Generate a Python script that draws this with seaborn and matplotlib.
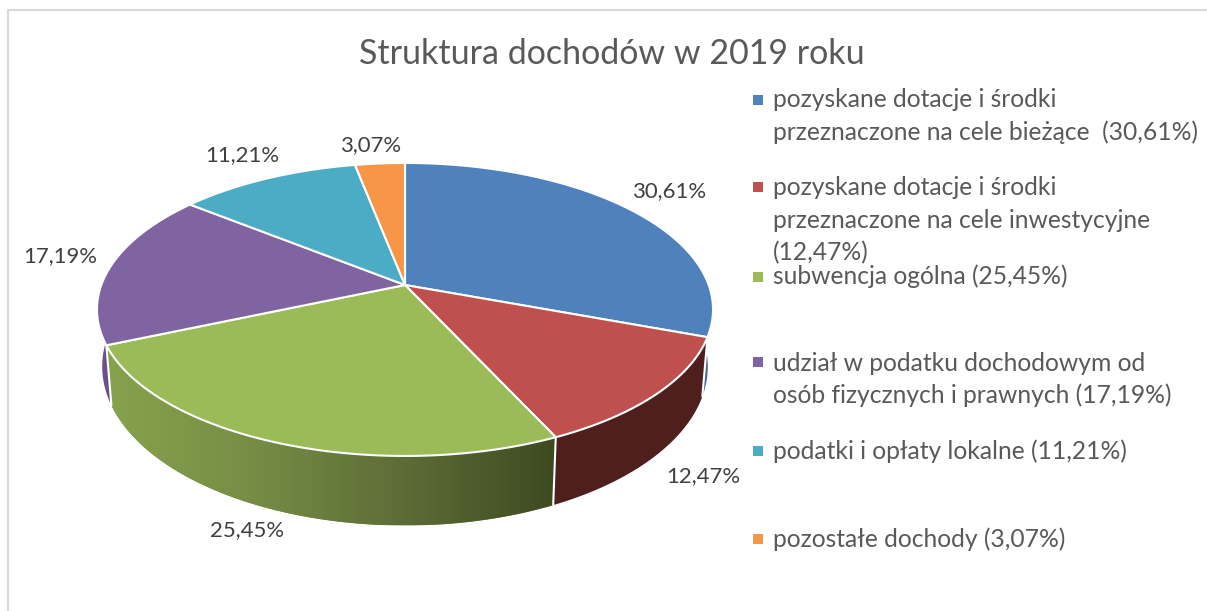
import numpy as np
import matplotlib
matplotlib.use("Agg")
import matplotlib.pyplot as plt
from matplotlib.colors import LinearSegmentedColormap
import seaborn as sns

title = "Struktura dochodów w 2019 roku"
values = [30.61, 12.47, 25.45, 17.19, 11.21, 3.07]
top_colors = ["#4F81BD", "#C0504D", "#9BBB59", "#8064A2", "#4BACC6", "#F79646"]
rim_colors = ["#3F6797", "#4F1F1E", "#7A9446", "#6A5288", "#37879D", "#C4742E"]
green_gradient = ["#87A34C", "#768C45", "#5C6C37", "#3D4A20"]
legend_lines = [
    ["pozyskane dotacje i środki", "przeznaczone na cele bieżące  (30,61%)"],
    ["pozyskane dotacje i środki", "przeznaczone na cele inwestycyjne", "(12,47%)"],
    ["subwencja ogólna (25,45%)"],
    ["udział w podatku dochodowym od", "osób fizycznych i prawnych (17,19%)"],
    ["podatki i opłaty lokalne (11,21%)"],
    ["pozostałe dochody (3,07%)"],
]
legend_marker_y = [100, 187, 277, 362, 451, 539]
legend_baselines = [[107, 140], [195, 228, 260], [284], [371, 403], [459], [547]]
label_pos = [(670, 191), (703, 476), (247, 530), (60, 256), (242, 155), (372, 145)]

sns.set_theme(style="white")
plt.rcParams["font.family"] = ["Lato", "DejaVu Sans"]
palette = sns.color_palette(top_colors)

W, H = 1207, 611
fig = plt.figure(figsize=(W / 100, H / 100), dpi=100)
ax = fig.add_axes([0, 0, 1, 1])
ax.set_xlim(0, W)
ax.set_ylim(H, 0)
ax.axis("off")

# projection of the flat pie disc on to the tilted view
CX, CY, A, B, K = 405.0, 285.0, 303.7, 142.4, 0.167


def project(theta, r=1.0, lower=False):
    u, v = r * np.sin(theta), r * np.cos(theta)
    d = 1 + K * v
    x, y = A * u / d, B * v / d
    if lower:
        x, y = x * 0.983, y * 1.085 - 55
    return CX + x, CY - y


edges = np.concatenate([[0], np.cumsum(values)]) / np.sum(values) * 2 * np.pi

# side walls
for i, c in enumerate(rim_colors):
    th = np.linspace(edges[i], edges[i + 1], 200)
    xt, yt = project(th)
    xb, yb = project(th, lower=True)
    px = np.concatenate([xt, xb[::-1]])
    py = np.concatenate([yt, yb[::-1]])
    poly = ax.fill(px, py, color=c, lw=0, zorder=1)[0]
    if i == 2:
        cmap = LinearSegmentedColormap.from_list("g", green_gradient)
        im = ax.imshow(np.linspace(0, 1, 256)[None, :], extent=[px.min(), px.max(), py.max(), py.min()],
                       cmap=cmap, aspect="auto", zorder=1.5, interpolation="bilinear")
        im.set_clip_path(poly)
ax.set_xlim(0, W)
ax.set_ylim(H, 0)

# wall separators
for e in edges[[1, 2, 3]]:
    xt, yt = project(e)
    xb, yb = project(e, lower=True)
    ax.plot([xt, xb], [yt, yb], color="white", lw=1.5, zorder=2)

# top faces
for i, c in enumerate(palette):
    th = np.linspace(edges[i], edges[i + 1], 200)
    xt, yt = project(th)
    ax.fill(np.r_[CX, xt], np.r_[CY, yt], facecolor=c, edgecolor="white", lw=1.5, zorder=3, joinstyle="round")

# data labels
for v, (x, y) in zip(values, label_pos):
    ax.text(x, y, f"{v:.2f}%".replace(".", ","), ha="center", va="center", fontsize=15.9, color="#404040", zorder=5)

# legend
for c, my, lines, bases in zip(palette, legend_marker_y, legend_lines, legend_baselines):
    ax.scatter([758], [my], marker="s", s=52, color=c, lw=0, zorder=5)
    for line, b in zip(lines, bases):
        ax.text(773, b, line, ha="left", va="baseline", fontsize=17.7, color="#595959", zorder=5)

ax.text(612, 54, title, ha="center", va="center", fontsize=24.5, color="#595959", zorder=5)

# chart frame
ax.plot([W, 8, 8], [10, 10, H], color="#D9D9D9", lw=1.5, zorder=0)

fig.savefig("out.png", dpi=100, facecolor="white")
